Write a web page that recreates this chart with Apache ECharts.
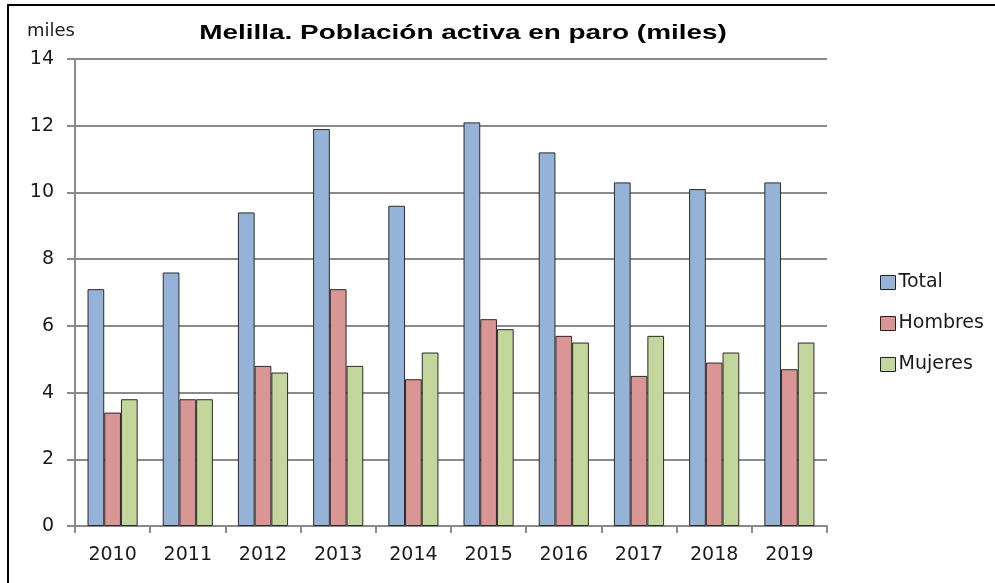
<!DOCTYPE html>
<html>
<head>
<meta charset="utf-8">
<script src="https://cdn.jsdelivr.net/npm/echarts@6/dist/echarts.min.js"></script>
<style>
  html, body { margin: 0; padding: 0; background: #fff; }
  #chart { width: 995px; height: 583px; }
</style>
</head>
<body>
<div id="chart"></div>
<script>
// Unemployed active population in Melilla (thousands), by year
const years = ['2010', '2011', '2012', '2013', '2014', '2015', '2016', '2017', '2018', '2019'];
const total   = [7.1, 7.6, 9.4, 11.9, 9.6, 12.1, 11.2, 10.3, 10.1, 10.3];
const hombres = [3.4, 3.8, 4.8, 7.1, 4.4, 6.2, 5.7, 4.5, 4.9, 4.7];
const mujeres = [3.8, 3.8, 4.6, 4.8, 5.2, 5.9, 5.5, 5.7, 5.2, 5.5];
const seriesNames = ['Total', 'Hombres', 'Mujeres'];
const seriesColors = ['#95B3D7', '#D99694', '#C3D69B'];
const chartTitle = 'Melilla. Población activa en paro (miles)';
const unitLabel = 'miles';

const labelFont = '"DejaVu Sans", "Open Sans", sans-serif';
const gridGray = '#8a8a8a';

const chart = echarts.init(document.getElementById('chart'), null, { renderer: 'canvas' });

const seriesData = [total, hombres, mujeres];

chart.setOption({
  backgroundColor: '#ffffff',
  animation: false,
  graphic: [
    {
      type: 'rect',
      shape: { x: 8, y: 5, width: 1000, height: 600 },
      style: { fill: 'none', stroke: '#000', lineWidth: 2 },
      silent: true,
      z: 100
    },
    {
      // wide bold heading, stretched horizontally
      type: 'text',
      x: 463,
      y: 33,
      scaleX: 1.33,
      scaleY: 1,
      style: {
        text: chartTitle,
        font: 'bold 21px "Liberation Sans", Arial, sans-serif',
        fill: '#000',
        align: 'center',
        verticalAlign: 'middle'
      }
    },
    {
      type: 'text',
      x: 27,
      y: 31,
      style: {
        text: unitLabel,
        font: '18px ' + labelFont,
        fill: '#1a1a1a',
        align: 'left',
        verticalAlign: 'middle'
      }
    }
  ],
  legend: {
    orient: 'vertical',
    left: 875,
    top: 268,
    itemWidth: 15,
    itemHeight: 14,
    itemGap: 22,
    icon: 'rect',
    data: seriesNames,
    textStyle: {
      fontFamily: labelFont,
      fontSize: 19,
      color: '#1a1a1a',
      padding: [0, 0, 0, -2]
    },
    itemStyle: { borderColor: '#222', borderWidth: 1 }
  },
  grid: {
    left: 75,
    right: 168,
    top: 59,
    bottom: 57,
    containLabel: false
  },
  xAxis: {
    type: 'category',
    data: years,
    axisLine: { lineStyle: { color: gridGray, width: 2 } },
    axisTick: { show: true, length: 7, interval: 0, lineStyle: { color: gridGray, width: 2 } },
    axisLabel: {
      margin: 20,
      fontFamily: labelFont,
      fontSize: 19,
      color: '#1a1a1a'
    },
    splitLine: { show: false }
  },
  yAxis: {
    type: 'value',
    min: 0,
    max: 14,
    interval: 2,
    axisLine: { show: true, lineStyle: { color: gridGray, width: 2 } },
    axisTick: { show: true, length: 8, lineStyle: { color: gridGray, width: 2 } },
    axisLabel: {
      margin: 21,
      fontFamily: labelFont,
      fontSize: 19,
      color: '#1a1a1a'
    },
    splitLine: { show: true, lineStyle: { color: gridGray, width: 2 } }
  },
  series: seriesNames.map((name, i) => ({
    name: name,
    type: 'bar',
    data: seriesData[i],
    barGap: '0%',
    barCategoryGap: '33.3%',
    itemStyle: {
      color: seriesColors[i],
      borderColor: '#2a2a2a',
      borderWidth: 1
    }
  }))
});
</script>
</body>
</html>
